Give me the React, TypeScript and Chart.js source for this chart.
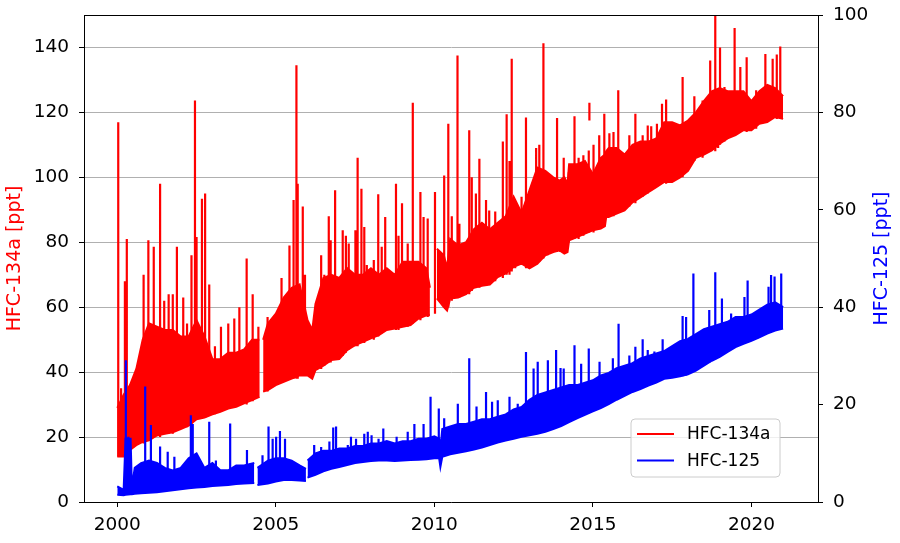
import React, { useEffect, useRef } from "react";
import { Chart, registerables } from "chart.js";

Chart.register(...registerables);

// ---------- Data ----------
const seriesNames = ["HFC-134a", "HFC-125"];
const axisTitles = ["HFC-134a [ppt]", "HFC-125 [ppt]"];
const xTickValues = [2000, 2005, 2010, 2015, 2020];
const leftTickValues = [0, 20, 40, 60, 80, 100, 120, 140];
const rightTickValues = [0, 20, 40, 60, 80, 100];

// HFC-134a dense band (lower / upper edge), ppt; null = data gap
const years134a = [
  2000.0, 2000.2, 2000.4, 2000.6, 2000.8, 2001.0, 2001.25, 2001.5, 2001.75, 2002.0,
  2002.25, 2002.5, 2002.75, 2003.0, 2003.25, 2003.5, 2003.75, 2004.0, 2004.25, 2004.48,
  2004.52, 2004.6, 2004.75, 2005.0, 2005.25, 2005.5, 2005.75, 2006.0, 2006.15, 2006.25,
  2006.5, 2006.75, 2007.0, 2007.25, 2007.5, 2007.75, 2008.0, 2008.25, 2008.5, 2008.75,
  2009.0, 2009.25, 2009.5, 2009.75, 2009.86, 2009.9, 2010.08, 2010.3, 2010.4, 2010.5,
  2010.75, 2011.0, 2011.25, 2011.5, 2011.75, 2012.0, 2012.25, 2012.5, 2012.75, 2013.0,
  2013.25, 2013.5, 2013.75, 2013.95, 2014.1, 2014.2, 2014.25, 2014.5, 2014.75, 2015.0,
  2015.25, 2015.38, 2015.42, 2015.5, 2015.75, 2016.0, 2016.25, 2016.5, 2016.75, 2017.0,
  2017.25, 2017.5, 2017.75, 2018.0, 2018.25, 2018.5, 2018.75, 2019.0, 2019.25, 2019.5,
  2019.75, 2020.0, 2020.25, 2020.5, 2020.75, 2021.0,
];
const lower134a = [
  14, 14, 16, 17.5, 18.5, 19, 20.5, 21, 21.5, 22.5,
  23.5, 25.5, 26, 27, 27.8, 28.8, 29.3, 30.4, 31.4, 32.4,
  null, 34, 34.5, 36, 37, 38, 39, 39, 38, 40.6,
  42, 43.7, 44, 46.8, 48.3, 49.3, 50.4, 51.4, 53, 53.4,
  54, 54.5, 56.5, 57.5, 57.5, null, 62.7, 60, 59, 62.7,
  63, 64, 66, 66.6, 67, 69.3, 70.4, 72.4, 73.4, 72,
  73.4, 76, 77, 77.5, 76.5, 77, 80.6, 81.6, 82.7, 83.7,
  84.2, 85, 87.8, 87.8, 88.8, 89.8, 92.3, 93.8, 95.4, 97,
  98.6, 98.6, 100, 102, 106, 107, 108.3, 110.4, 112, 113,
  114.5, 114.5, 116.5, 117, 118.6, 118,
];
const upper134a = [
  29, 33, 36, 41, 50, 55, 54, 53, 53, 51,
  51, 56, 51, 44, 44, 46, 46, 47, 50, 50,
  null, 50, 55, 58, 63, 66, 67, 56, 53, 61,
  69, 70, 69, 72, 70, 70, 72, 70, 72, 70,
  74, 74, 74, 72, 66, null, 78, 76, 72, 81,
  79, 80, 84, 86, 84, 86, 88, 94, 89, 96,
  103, 102, 100, 99, 100, 98, 104, 104, 105, 101,
  106, 107, 108, 109, 109, 107, 110, 111, 111, 112,
  117, 117, 116, 117.5, 120, 123.5, 126.5, 127.5, 126.5, 126.5,
  126.5, 123.5, 126.5, 128.5, 127.5, 125,
];

// HFC-134a pollution spikes: year, peak, foot
const spikeYears134a = [
  2000.03, 2000.12, 2000.24, 2000.3, 2000.83, 2000.98, 2001.15, 2001.35, 2001.48, 2001.62,
  2001.75, 2001.88, 2002.08, 2002.2, 2002.34, 2002.45, 2002.5, 2002.67, 2002.77, 2002.9,
  2003.08, 2003.27, 2003.5, 2003.69, 2003.85, 2004.08, 2004.27, 2004.45, 2004.74, 2004.95,
  2005.18, 2005.43, 2005.56, 2005.65, 2005.69, 2005.85, 2005.92, 2006.04, 2006.43, 2006.53,
  2006.67, 2006.73, 2006.87, 2007.11, 2007.21, 2007.3, 2007.51, 2007.58, 2007.7, 2007.79,
  2007.87, 2008.09, 2008.23, 2008.34, 2008.45, 2008.79, 2008.87, 2008.98, 2009.16, 2009.32,
  2009.56, 2009.66, 2009.79, 2010.02, 2010.31, 2010.44, 2010.55, 2010.73, 2010.79, 2011.1,
  2011.18, 2011.31, 2011.42, 2011.63, 2011.73, 2011.92, 2012.16, 2012.28, 2012.37, 2012.44,
  2012.55, 2012.75, 2012.89, 2013.21, 2013.31, 2013.44, 2013.57, 2013.7, 2013.87, 2013.97,
  2014.08, 2014.24, 2014.42, 2014.55, 2014.7, 2014.87, 2014.89, 2015.02, 2015.2, 2015.36,
  2015.52, 2015.65, 2015.8, 2015.96, 2016.15, 2016.34, 2016.57, 2016.73, 2016.84, 2017.02,
  2017.18, 2017.31, 2017.83, 2018.2, 2018.46, 2018.7, 2018.86, 2018.95, 2019.01, 2019.15,
  2019.47, 2019.65, 2019.85, 2020.15, 2020.44, 2020.67, 2020.8, 2020.91,
];
const spikePeaks134a = [
  117, 35, 68, 81, 70, 80.6, 78.6, 98, 62, 64,
  64, 78.6, 63, 55, 76, 123.7, 81.6, 93.4, 95, 67,
  48, 54, 55, 56.5, 60, 75, 64, 54, 57, 56,
  69, 79, 93, 134.5, 98, 91, 70, 54.5, 76, 70,
  88, 80.6, 96, 83.7, 82, 79.6, 83.7, 106, 96.5, 84.7,
  73, 74.5, 94.8, 78.6, 87.8, 98, 82, 92, 79.6, 123,
  95.5, 87.8, 87.3, 95.5, 100.6, 116.5, 88, 137.5, 85.7, 114.5,
  100, 95, 105.7, 93, 89.8, 89.5, 111, 119.4, 105, 136.5,
  92, 94, 118.4, 109, 110, 141.3, 100, 92, 118.3, 99,
  106, 101.6, 118.8, 106, 106.8, 108.3, 123, 110, 113, 119.6,
  113.6, 114, 126.8, 106, 113, 119.6, 113, 116, 115.7, 116.5,
  122.7, 124, 130.9, 125, 123.7, 136, 152, 120.6, 140, 127.8,
  146, 134, 137, 126.8, 138, 136.5, 137.8, 140.3,
];
const spikeFeet134a = [
  14, 14, 15, 16, 18, 19, 20, 20, 21, 21,
  21, 22, 23, 23, 24, 25, 26, 26, 26, 27,
  27, 28, 29, 29, 30, 30, 31, 32, 34, 36,
  37, 38, 38, 38, 38, 39, 39, 39, 41, 42,
  43, 43, 44, 45, 46, 47, 48, 48, 49, 49,
  50, 50, 51, 52, 53, 53, 53, 54, 54, 55,
  56, 57, 57, 58, 60, 60, 62, 63, 63, 64,
  65, 66, 66, 67, 67, 68, 69, 70, 70, 71,
  72, 73, 72, 73, 74, 75, 76, 77, 77, 77,
  77, 80, 81, 81, 82, 83, 117.5, 83, 84, 86,
  88, 88, 89, 90, 91, 92, 94, 95, 96, 97,
  98, 98, 100, 105, 106, 108, 108, 109, 110, 111,
  113, 114, 114, 115, 117, 118, 118, 118,
];

// HFC-125 dense band (lower / upper edge), ppt; null = data gap
const years125 = [
  2000.0, 2000.2, 2000.26, 2000.42, 2000.46, 2000.55, 2000.75, 2001.0, 2001.25, 2001.5,
  2001.75, 2002.0, 2002.25, 2002.5, 2002.75, 2003.0, 2003.25, 2003.5, 2003.75, 2004.0,
  2004.32, 2004.36, 2004.42, 2004.75, 2005.0, 2005.25, 2005.5, 2005.75, 2005.95, 2005.97,
  2006.0, 2006.25, 2006.5, 2006.75, 2007.0, 2007.25, 2007.5, 2007.75, 2008.0, 2008.25,
  2008.5, 2008.75, 2009.0, 2009.25, 2009.5, 2009.75, 2010.0, 2010.15, 2010.19, 2010.25,
  2010.5, 2010.75, 2011.0, 2011.25, 2011.5, 2011.75, 2012.0, 2012.25, 2012.5, 2012.75,
  2013.0, 2013.25, 2013.5, 2013.75, 2014.0, 2014.25, 2014.5, 2014.75, 2015.0, 2015.25,
  2015.5, 2015.75, 2016.0, 2016.25, 2016.5, 2016.75, 2017.0, 2017.25, 2017.5, 2017.75,
  2018.0, 2018.25, 2018.5, 2018.75, 2019.0, 2019.25, 2019.5, 2019.75, 2020.0, 2020.25,
  2020.5, 2020.75, 2021.0,
];
const lower125 = [
  1.5, 1.4, 1.5, 1.6, 1.6, 1.7, 1.8, 1.9, 2.0, 2.2,
  2.4, 2.6, 2.8, 3.0, 3.1, 3.3, 3.4, 3.5, 3.7, 3.8,
  3.9, null, 3.5, 3.8, 4.2, 4.5, 4.5, 4.4, 4.3, null,
  5.0, 5.6, 6.3, 6.8, 7.2, 7.6, 8.0, 8.2, 8.4, 8.5,
  8.5, 8.4, 8.5, 8.6, 8.7, 8.8, 9.0, 9.0, 7.2, 9.3,
  9.8, 10.1, 10.4, 10.8, 11.2, 11.7, 12.2, 12.6, 13.0, 13.4,
  13.7, 14.0, 14.4, 15.0, 15.6, 16.4, 17.2, 17.9, 18.6, 19.3,
  20.1, 21.0, 21.8, 22.6, 23.2, 23.9, 24.5, 25.3, 25.5, 25.8,
  26.2, 27.0, 28.0, 29.0, 29.8, 30.8, 31.8, 32.5, 33.1, 33.8,
  34.6, 35.2, 35.6,
];
const upper125 = [
  3.2, 2.5, 13, 13, 3, 7, 8, 8.5, 8, 7,
  6.5, 7, 9, 10, 7, 8, 6.5, 6.5, 7.5, 7.5,
  8, null, 7, 8.5, 9, 9, 8.5, 7.5, 6.8, null,
  8.5, 10, 10.5, 10.5, 11, 11, 11.5, 11.5, 12, 12,
  12.5, 12, 12.5, 12.5, 13, 13, 13.5, 13, 11, 15,
  15.5, 16, 16, 16.5, 17, 17, 17.5, 18, 19, 19.5,
  21, 22, 22.5, 23, 23.5, 24, 24, 24.5, 25, 26,
  26.5, 27.5, 28, 28.5, 29.5, 30, 30.5, 31, 32, 33,
  33.5, 34.5, 35.5, 36, 36.5, 37, 38, 38, 38.5, 39.5,
  40.5, 41, 40,
];

// HFC-125 pollution spikes: year, peak, foot
const spikeYears125 = [
  2000.27, 2000.35, 2000.88, 2001.06, 2001.35, 2001.59, 2001.8, 2002.32, 2002.38, 2002.9,
  2003.11, 2003.56, 2004.09, 2004.58, 2004.77, 2004.9, 2005.01, 2005.13, 2005.29, 2006.21,
  2006.43, 2006.69, 2006.81, 2006.9, 2007.27, 2007.37, 2007.53, 2007.79, 2007.9, 2008.02,
  2008.24, 2008.39, 2008.81, 2009.16, 2009.37, 2009.66, 2009.88, 2010.14, 2010.31, 2010.74,
  2011.1, 2011.33, 2011.63, 2011.82, 2012.0, 2012.37, 2012.63, 2012.89, 2013.13, 2013.26,
  2013.58, 2013.84, 2013.98, 2014.08, 2014.42, 2014.63, 2014.87, 2015.21, 2015.63, 2015.81,
  2016.15, 2016.34, 2016.57, 2016.73, 2016.94, 2017.2, 2017.83, 2017.94, 2018.17, 2018.67,
  2018.86, 2019.07, 2019.36, 2019.78, 2019.88, 2020.2, 2020.54, 2020.62, 2020.73, 2020.94,
];
const spikePeaks125 = [
  29.1, 13.4, 23.7, 15.8, 11.4, 10.3, 9.3, 17.8, 16, 16.5,
  8.5, 16.1, 10.7, 9.6, 15.5, 13, 13.4, 14.6, 13, 11.7,
  11.3, 12.4, 15.3, 15.5, 11.7, 13.4, 13, 14, 14.4, 13.7,
  13, 15.1, 13.4, 14.4, 16, 16, 21.6, 19.2, 17.2, 20.2,
  29.5, 19.6, 22.6, 20.6, 20.9, 21.6, 20.2, 30.8, 27.4, 28.8,
  29.1, 31.2, 27.5, 27.4, 32.2, 28.4, 31.5, 28.8, 29.5, 36.6,
  30.1, 31.9, 33.4, 31.2, 30.9, 33.4, 38.2, 38, 46.9, 39.4,
  47.2, 41.8, 38.7, 42.1, 45.5, 37.3, 44.2, 46.6, 46.3, 46.9,
];
const spikeFeet125 = [
  1.5, 1.5, 1.8, 1.9, 2.1, 2.3, 2.4, 2.8, 2.9, 3.2,
  3.3, 3.5, 3.8, 3.6, 3.8, 4, 4.2, 4.3, 4.5, 5.5,
  6.1, 6.7, 6.9, 7, 7.6, 7.8, 8, 8.2, 8.3, 8.4,
  8.5, 8.5, 8.4, 8.5, 8.6, 8.8, 8.9, 9, 9.4, 10.1,
  10.5, 10.9, 11.4, 11.8, 12.2, 12.8, 13.2, 13.6, 13.8, 14,
  14.6, 15.2, 15.6, 15.8, 17, 17.5, 18.2, 19.2, 20.6, 21.2,
  22.3, 22.8, 23.4, 23.8, 24.4, 25.2, 25.8, 26, 26.8, 28.6,
  29.3, 30, 31.2, 32.6, 32.8, 33.6, 34.7, 34.9, 35.1, 35.5,
];

// ---------- Styling ----------
const RED = "#ff0000";
const BLUE = "#0000ff";
const FONT = "'DejaVu Sans', 'Liberation Sans', sans-serif";

type Pt = { x: number; y: number | null };

function bandPoints(xs: number[], ys: (number | null)[]): Pt[] {
  return xs.map((x, i) => ({ x, y: ys[i] }));
}

function spikePoints(xs: number[], peaks: number[], feet: number[]): Pt[] {
  const out: Pt[] = [];
  xs.forEach((x, i) => {
    out.push({ x, y: feet[i] }, { x, y: peaks[i] }, { x, y: null });
  });
  return out;
}

const frameAndLegend = {
  id: "frameAndLegend",
  afterDraw(chart: any) {
    const { ctx, chartArea: a } = chart;
    ctx.save();
    // top spine
    ctx.strokeStyle = "#000";
    ctx.lineWidth = 1;
    ctx.beginPath();
    ctx.moveTo(a.left, a.top + 0.5);
    ctx.lineTo(a.right, a.top + 0.5);
    ctx.stroke();

    // right axis title, reading bottom-to-top like the left one
    ctx.save();
    ctx.translate(chart.width - 18, (a.top + a.bottom) / 2);
    ctx.rotate(-Math.PI / 2);
    ctx.fillStyle = BLUE;
    ctx.font = `19px ${FONT}`;
    ctx.textAlign = "center";
    ctx.textBaseline = "middle";
    ctx.fillText(axisTitles[1], 0, 0);
    ctx.restore();

    // legend box (lower right, inside the plot)
    const x0 = a.right - 187;
    const y0 = a.bottom - 83;
    const w = 149;
    const h = 58;
    const r = 4;
    ctx.beginPath();
    ctx.moveTo(x0 + r, y0);
    ctx.arcTo(x0 + w, y0, x0 + w, y0 + h, r);
    ctx.arcTo(x0 + w, y0 + h, x0, y0 + h, r);
    ctx.arcTo(x0, y0 + h, x0, y0, r);
    ctx.arcTo(x0, y0, x0 + w, y0, r);
    ctx.closePath();
    ctx.fillStyle = "rgba(255,255,255,0.8)";
    ctx.fill();
    ctx.strokeStyle = "#cccccc";
    ctx.lineWidth = 1;
    ctx.stroke();

    const colors = [RED, BLUE];
    seriesNames.forEach((name, i) => {
      const yy = y0 + 15 + i * 26.5;
      ctx.strokeStyle = colors[i];
      ctx.lineWidth = 2;
      ctx.beginPath();
      ctx.moveTo(x0 + 6, yy);
      ctx.lineTo(x0 + 43, yy);
      ctx.stroke();
      ctx.fillStyle = "#000";
      ctx.font = `17px ${FONT}`;
      ctx.textAlign = "left";
      ctx.textBaseline = "middle";
      ctx.fillText(name, x0 + 56, yy + 1);
    });
    ctx.restore();
  },
};

export default function App() {
  const canvasRef = useRef<HTMLCanvasElement | null>(null);

  useEffect(() => {
    const canvas = canvasRef.current;
    if (!canvas) return;

    const common = {
      pointRadius: 0,
      pointHoverRadius: 0,
      tension: 0,
      spanGaps: false,
      borderWidth: 2,
    };

    const chart = new Chart(canvas, {
      type: "line",
      data: {
        datasets: [
          {
            ...common,
            label: "HFC-134a lower",
            data: bandPoints(years134a, lower134a),
            borderColor: RED,
            backgroundColor: RED,
            fill: false,
            yAxisID: "y",
            order: 2,
          },
          {
            ...common,
            label: "HFC-134a",
            data: bandPoints(years134a, upper134a),
            borderColor: RED,
            backgroundColor: RED,
            fill: 0,
            yAxisID: "y",
            order: 2,
          },
          {
            ...common,
            label: "HFC-134a spikes",
            data: spikePoints(spikeYears134a, spikePeaks134a, spikeFeet134a),
            borderColor: RED,
            backgroundColor: RED,
            borderWidth: 2.2,
            fill: false,
            yAxisID: "y",
            order: 2,
          },
          {
            ...common,
            label: "HFC-125 lower",
            data: bandPoints(years125, lower125),
            borderColor: BLUE,
            backgroundColor: BLUE,
            fill: false,
            yAxisID: "y1",
            order: 1,
          },
          {
            ...common,
            label: "HFC-125",
            data: bandPoints(years125, upper125),
            borderColor: BLUE,
            backgroundColor: BLUE,
            fill: 3,
            yAxisID: "y1",
            order: 1,
          },
          {
            ...common,
            label: "HFC-125 spikes",
            data: spikePoints(spikeYears125, spikePeaks125, spikeFeet125),
            borderColor: BLUE,
            backgroundColor: BLUE,
            borderWidth: 2.2,
            fill: false,
            yAxisID: "y1",
            order: 1,
          },
        ],
      },
      options: {
        animation: false,
        responsive: false,
        devicePixelRatio: 1,
        events: [],
        layout: { padding: { top: 15, left: 0, right: 0, bottom: 0 } },
        plugins: {
          legend: { display: false },
          tooltip: { enabled: false },
          title: { display: false },
        },
        scales: {
          x: {
            type: "linear",
            min: 1998.95,
            max: 2022.1,
            afterBuildTicks: (s: any) => {
              s.ticks = xTickValues.map((v) => ({ value: v }));
            },
            afterFit: (s: any) => {
              s.height = 41;
              s.paddingLeft = 0;
              s.paddingRight = 0;
            },
            ticks: {
              callback: (v: any) => String(v),
              font: { family: FONT, size: 18.5 },
              color: "#000",
              padding: 7,
              maxRotation: 0,
              autoSkip: false,
            },
            grid: {
              drawOnChartArea: false,
              tickLength: 5,
              tickColor: "#000",
              tickWidth: 1,
            },
            border: { color: "#000", width: 1 },
          },
          y: {
            type: "linear",
            position: "left",
            min: 0,
            max: 150,
            afterBuildTicks: (s: any) => {
              s.ticks = leftTickValues.map((v) => ({ value: v }));
            },
            afterFit: (s: any) => {
              s.width = 84;
              s.paddingTop = 0;
              s.paddingBottom = 0;
            },
            ticks: {
              callback: (v: any) => String(v),
              font: { family: FONT, size: 18.5 },
              color: "#000",
              padding: 10,
            },
            grid: {
              color: "#b0b0b0",
              lineWidth: 1,
              tickLength: 5,
              tickColor: "#000",
              tickWidth: 1,
            },
            border: { color: "#000", width: 1 },
            title: {
              display: true,
              text: axisTitles[0],
              color: RED,
              font: { family: FONT, size: 19 },
              padding: { top: 4, bottom: 0 },
            },
          },
          y1: {
            type: "linear",
            position: "right",
            min: 0,
            max: 100,
            afterBuildTicks: (s: any) => {
              s.ticks = rightTickValues.map((v) => ({ value: v }));
            },
            afterFit: (s: any) => {
              s.width = 82;
              s.paddingTop = 0;
              s.paddingBottom = 0;
            },
            ticks: {
              callback: (v: any) => String(v),
              font: { family: FONT, size: 18.5 },
              color: "#000",
              padding: 10,
            },
            grid: {
              drawOnChartArea: false,
              tickLength: 5,
              tickColor: "#000",
              tickWidth: 1,
            },
            border: { color: "#000", width: 1 },
            title: { display: false },
          },
        },
      } as any,
      plugins: [frameAndLegend],
    });

    return () => {
      chart.destroy();
    };
  }, []);

  return (
    <div
      style={{
        position: "absolute",
        left: 0,
        top: 0,
        width: 900,
        height: 543,
        background: "#ffffff",
      }}
    >
      <canvas
        ref={canvasRef}
        width={900}
        height={543}
        style={{ display: "block", width: 900, height: 543 }}
      />
    </div>
  );
}
